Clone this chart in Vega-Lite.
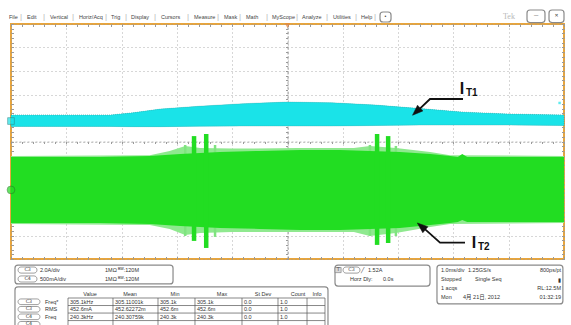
{
"$schema": "https://vega.github.io/schema/vega-lite/v6.json",
"width": 553, "height": 235,
"autosize": {"type": "none"},
"padding": {"left": 11, "top": 24, "right": 7, "bottom": 66},
"background": "white",
"config": {"view": {"stroke": "#e8a53c", "strokeWidth": 2}},
"resolve": {"axis": {"x": "independent", "y": "independent"}},
"datasets": {
"cyan": [
{"t": -5.0, "top": 1.13, "bot": 0.64}, {"t": -3.2, "top": 1.13, "bot": 0.64}, {"t": -2.8, "top": 1.22, "bot": 0.63},
{"t": -2.3, "top": 1.38, "bot": 0.63}, {"t": -1.6, "top": 1.5, "bot": 0.65}, {"t": -0.8, "top": 1.61, "bot": 0.66},
{"t": 0.0, "top": 1.68, "bot": 0.66}, {"t": 0.8, "top": 1.65, "bot": 0.66}, {"t": 1.6, "top": 1.55, "bot": 0.68},
{"t": 2.4, "top": 1.4, "bot": 0.7}, {"t": 3.2, "top": 1.25, "bot": 0.7}, {"t": 4.0, "top": 1.17, "bot": 0.7},
{"t": 5.0, "top": 1.13, "bot": 0.68}
],
"fringe": [
{"t": -5.0, "top": -0.62, "bot": -3.51}, {"t": -2.49, "top": -0.58, "bot": -3.55}, {"t": -2.13, "top": -0.4, "bot": -3.72},
{"t": -1.85, "top": -0.19, "bot": -3.98}, {"t": -1.58, "top": -0.28, "bot": -3.89}, {"t": -1.0, "top": -0.3, "bot": -3.85},
{"t": 0.2, "top": -0.28, "bot": -3.85}, {"t": 1.2, "top": -0.28, "bot": -3.85}, {"t": 1.49, "top": -0.19, "bot": -4.02},
{"t": 1.96, "top": -0.28, "bot": -3.89}, {"t": 2.58, "top": -0.45, "bot": -3.64}, {"t": 2.94, "top": -0.58, "bot": -3.51},
{"t": 5.0, "top": -0.62, "bot": -3.47}
],
"green": [
{"t": -5.0, "top": -0.66, "bot": -3.47}, {"t": -3.39, "top": -0.66, "bot": -3.47}, {"t": -2.49, "top": -0.62, "bot": -3.51},
{"t": -1.94, "top": -0.53, "bot": -3.6}, {"t": -1.22, "top": -0.45, "bot": -3.68}, {"t": -0.5, "top": -0.4, "bot": -3.72},
{"t": 0.23, "top": -0.36, "bot": -3.77}, {"t": 0.95, "top": -0.36, "bot": -3.77}, {"t": 2.03, "top": -0.45, "bot": -3.68},
{"t": 2.58, "top": -0.53, "bot": -3.55}, {"t": 2.94, "top": -0.62, "bot": -3.47}, {"t": 3.08, "top": -0.66, "bot": -3.43},
{"t": 3.16, "top": -0.53, "bot": -3.34}, {"t": 3.25, "top": -0.66, "bot": -3.43}, {"t": 5.0, "top": -0.66, "bot": -3.43}
],
"spikes": [
{"t": -1.69, "top": 0.23, "bot": -4.23, "kind": "core"}, {"t": -1.47, "top": 0.32, "bot": -4.53, "kind": "core"},
{"t": 1.62, "top": 0.32, "bot": -4.4, "kind": "core"}, {"t": 1.82, "top": 0.23, "bot": -4.32, "kind": "core"},
{"t": -1.85, "top": -0.15, "bot": -4.02, "kind": "light"}, {"t": -1.31, "top": -0.15, "bot": -4.06, "kind": "light"},
{"t": 1.49, "top": -0.15, "bot": -4.02, "kind": "light"}, {"t": 1.96, "top": -0.19, "bot": -4.02, "kind": "light"}
],
"arrows": [
{"arrow": "IT1", "o": 1, "t": 3.174, "y": 1.809}, {"arrow": "IT1", "o": 2, "t": 2.577, "y": 1.809}, {"arrow": "IT1", "o": 3, "t": 2.38, "y": 1.37},
{"arrow": "IT2", "o": 1, "t": 3.21, "y": -4.3}, {"arrow": "IT2", "o": 2, "t": 2.758, "y": -4.3}, {"arrow": "IT2", "o": 3, "t": 2.48, "y": -3.72}
],
"heads": [
{"t": 2.33, "y": 1.27, "dir": 227}, {"t": 2.42, "y": -3.61, "dir": 310}
],
"points": [
{"t": -5.0, "y": 0.87, "kind": "cyan"}, {"t": -5.0, "y": -2.06, "kind": "green"},
{"t": 0.0, "y": 4.93, "kind": "trig"}, {"t": 4.92, "y": 1.64, "kind": "cyanlvl"}
],
"boxes": [
{"t1": -4.928, "t2": -2.07, "y1": -5.26, "y2": -6.06, "kind": "panel"},
{"t1": 0.859, "t2": 2.577, "y1": -5.26, "y2": -6.15, "kind": "panel"},
{"t1": 2.703, "t2": 4.98, "y1": -5.26, "y2": -6.91, "kind": "panel"},
{"t1": -4.928, "t2": 0.732, "y1": -6.19, "y2": -7.98, "kind": "panel"},
{"t1": 4.331, "t2": 4.656, "y1": 5.596, "y2": 5.06, "kind": "panel"},
{"t1": 4.729, "t2": 5.0, "y1": 5.596, "y2": 5.06, "kind": "panel"},
{"t1": 1.673, "t2": 1.872, "y1": 5.51, "y2": 5.085, "kind": "panel"},
{"t1": -4.873, "t2": -4.53, "y1": -5.34, "y2": -5.6, "kind": "pill"},
{"t1": -4.873, "t2": -4.53, "y1": -5.72, "y2": -5.98, "kind": "pill"},
{"t1": 1.004, "t2": 1.311, "y1": -5.34, "y2": -5.6, "kind": "pill"},
{"t1": -4.873, "t2": -4.476, "y1": -6.7, "y2": -6.94, "kind": "pill"},
{"t1": -4.873, "t2": -4.476, "y1": -7.02, "y2": -7.26, "kind": "pill"},
{"t1": -4.873, "t2": -4.476, "y1": -7.34, "y2": -7.58, "kind": "pill"},
{"t1": -4.873, "t2": -4.476, "y1": -7.66, "y2": -7.9, "kind": "pill"},
{"t1": 0.86, "t2": 0.97, "y1": -5.36, "y2": -5.58, "kind": "trigbox"}
],
"tlines": [
{"t1": -3.969, "t2": 0.678, "y1": -6.66, "y2": -6.66}, {"t1": -3.969, "t2": 0.678, "y1": -6.98, "y2": -6.98},
{"t1": -3.969, "t2": 0.678, "y1": -7.3, "y2": -7.3}, {"t1": -3.969, "t2": 0.678, "y1": -7.62, "y2": -7.62},
{"t1": -3.969, "t2": -3.969, "y1": -6.66, "y2": -7.98}, {"t1": -3.156, "t2": -3.156, "y1": -6.66, "y2": -7.98},
{"t1": -2.342, "t2": -2.342, "y1": -6.66, "y2": -7.98}, {"t1": -1.673, "t2": -1.673, "y1": -6.66, "y2": -7.98},
{"t1": -0.823, "t2": -0.823, "y1": -6.66, "y2": -7.98}, {"t1": -0.172, "t2": -0.172, "y1": -6.66, "y2": -7.98},
{"t1": 0.353, "t2": 0.353, "y1": -6.66, "y2": -7.98}, {"t1": 0.678, "t2": 0.678, "y1": -6.66, "y2": -7.98}
],
"texts": [
{"t": -5.036, "y": 5.3, "text": "File", "role": "menu"}, {"t": -4.711, "y": 5.3, "text": "Edit", "role": "menu"},
{"t": -4.295, "y": 5.3, "text": "Vertical", "role": "menu"}, {"t": -3.77, "y": 5.3, "text": "Horiz/Acq", "role": "menu"},
{"t": -3.192, "y": 5.3, "text": "Trig", "role": "menu"}, {"t": -2.83, "y": 5.3, "text": "Display", "role": "menu"},
{"t": -2.288, "y": 5.3, "text": "Cursors", "role": "menu"}, {"t": -1.691, "y": 5.3, "text": "Measure", "role": "menu"},
{"t": -1.148, "y": 5.3, "text": "Mask", "role": "menu"}, {"t": -0.75, "y": 5.3, "text": "Math", "role": "menu"},
{"t": -0.28, "y": 5.3, "text": "MyScope", "role": "menu"}, {"t": 0.262, "y": 5.3, "text": "Analyze", "role": "menu"},
{"t": 0.823, "y": 5.3, "text": "Utilities", "role": "menu"}, {"t": 1.329, "y": 5.3, "text": "Help", "role": "menu"},
{"t": -4.819, "y": 5.3, "text": "|", "role": "sep"}, {"t": -4.403, "y": 5.3, "text": "|", "role": "sep"},
{"t": -3.879, "y": 5.3, "text": "|", "role": "sep"}, {"t": -3.282, "y": 5.3, "text": "|", "role": "sep"},
{"t": -2.92, "y": 5.3, "text": "|", "role": "sep"}, {"t": -2.396, "y": 5.3, "text": "|", "role": "sep"},
{"t": -1.799, "y": 5.3, "text": "|", "role": "sep"}, {"t": -1.257, "y": 5.3, "text": "|", "role": "sep"},
{"t": -0.859, "y": 5.3, "text": "|", "role": "sep"}, {"t": -0.371, "y": 5.3, "text": "|", "role": "sep"},
{"t": 0.172, "y": 5.3, "text": "|", "role": "sep"}, {"t": 0.714, "y": 5.3, "text": "|", "role": "sep"},
{"t": 1.239, "y": 5.3, "text": "|", "role": "sep"}, {"t": 1.582, "y": 5.3, "text": "|", "role": "sep"},
{"t": 1.772, "y": 5.3, "text": "•", "role": "pill"},
{"t": 3.897, "y": 5.3, "text": "Tek", "role": "tek"},
{"t": 4.494, "y": 5.33, "text": "—", "role": "pill"}, {"t": 4.865, "y": 5.33, "text": "✕", "role": "pill"},
{"t": -4.7, "y": -5.47, "text": "C3", "role": "pill"}, {"t": -4.7, "y": -5.85, "text": "C4", "role": "pill"},
{"t": -4.476, "y": -5.47, "text": "2.0A/div", "role": "ui"}, {"t": -3.3, "y": -5.47, "text": "1MΩ", "role": "ui"}, {"t": -3.065, "y": -5.47, "text": "ᴮᵂ:120M", "role": "ui"},
{"t": -4.476, "y": -5.85, "text": "500mA/div", "role": "ui"}, {"t": -3.3, "y": -5.85, "text": "1MΩ", "role": "ui"}, {"t": -3.065, "y": -5.85, "text": "ᴮᵂ:120M", "role": "ui"},
{"t": 0.915, "y": -5.47, "text": "T", "role": "pill"}, {"t": 1.157, "y": -5.47, "text": "C3", "role": "pill"},
{"t": 1.33, "y": -5.47, "text": "╱", "role": "ui"}, {"t": 1.456, "y": -5.47, "text": "1.52A", "role": "ui"},
{"t": 1.13, "y": -5.85, "text": "Horz Dly:", "role": "ui"}, {"t": 1.727, "y": -5.85, "text": "0.0s", "role": "ui"},
{"t": 2.776, "y": -5.47, "text": "1.0ms/div", "role": "ui"}, {"t": 3.264, "y": -5.47, "text": "1.25GS/s", "role": "ui"}, {"t": 4.946, "y": -5.47, "text": "800ps/pt", "role": "uiR"},
{"t": 2.776, "y": -5.85, "text": "Stopped", "role": "ui"}, {"t": 3.391, "y": -5.85, "text": "Single Seq", "role": "ui"}, {"t": 4.946, "y": -5.9, "text": "▮", "role": "uiR"},
{"t": 2.776, "y": -6.23, "text": "1 acqs", "role": "ui"}, {"t": 4.946, "y": -6.23, "text": "RL:12.5M", "role": "uiR"},
{"t": 2.776, "y": -6.62, "text": "Mon", "role": "ui"}, {"t": 3.174, "y": -6.62, "text": "4月 21日, 2012", "role": "ui"}, {"t": 4.946, "y": -6.62, "text": "01:32:19", "role": "uiR"},
{"t": -3.571, "y": -6.49, "text": "Value", "role": "hdr"}, {"t": -2.848, "y": -6.49, "text": "Mean", "role": "hdr"},
{"t": -2.034, "y": -6.49, "text": "Min", "role": "hdr"}, {"t": -1.184, "y": -6.49, "text": "Max", "role": "hdr"},
{"t": -0.443, "y": -6.49, "text": "St Dev", "role": "hdr"}, {"t": 0.19, "y": -6.49, "text": "Count", "role": "hdr"},
{"t": 0.533, "y": -6.49, "text": "Info", "role": "hdr"},
{"t": -4.675, "y": -6.82, "text": "C3", "role": "pill"}, {"t": -4.675, "y": -7.14, "text": "C3", "role": "pill"}, {"t": -4.675, "y": -7.46, "text": "C4", "role": "pill"}, {"t": -4.675, "y": -7.78, "text": "C4", "role": "pill"},
{"t": -4.385, "y": -6.82, "text": "Freq*", "role": "ui"}, {"t": -4.385, "y": -7.14, "text": "RMS", "role": "ui"}, {"t": -4.385, "y": -7.46, "text": "Freq", "role": "ui"},
{"t": -3.933, "y": -6.82, "text": "305.1kHz", "role": "ui"}, {"t": -3.119, "y": -6.82, "text": "305.11001k", "role": "ui"}, {"t": -2.306, "y": -6.82, "text": "305.1k", "role": "ui"},
{"t": -1.637, "y": -6.82, "text": "305.1k", "role": "ui"}, {"t": -0.787, "y": -6.82, "text": "0.0", "role": "ui"}, {"t": -0.136, "y": -6.82, "text": "1.0", "role": "ui"},
{"t": -3.933, "y": -7.14, "text": "452.6mA", "role": "ui"}, {"t": -3.119, "y": -7.14, "text": "452.62272m", "role": "ui"}, {"t": -2.306, "y": -7.14, "text": "452.6m", "role": "ui"},
{"t": -1.637, "y": -7.14, "text": "452.6m", "role": "ui"}, {"t": -0.787, "y": -7.14, "text": "0.0", "role": "ui"}, {"t": -0.136, "y": -7.14, "text": "1.0", "role": "ui"},
{"t": -3.933, "y": -7.46, "text": "240.3kHz", "role": "ui"}, {"t": -3.119, "y": -7.46, "text": "240.30759k", "role": "ui"}, {"t": -2.306, "y": -7.46, "text": "240.3k", "role": "ui"},
{"t": -1.637, "y": -7.46, "text": "240.3k", "role": "ui"}, {"t": -0.787, "y": -7.46, "text": "0.0", "role": "ui"}, {"t": -0.136, "y": -7.46, "text": "1.0", "role": "ui"},
{"t": 3.156, "y": 2.234, "text": "I", "role": "big"}, {"t": 3.228, "y": 2.06, "text": "T1", "role": "sub"},
{"t": 3.373, "y": -4.319, "text": "I", "role": "big"}, {"t": 3.445, "y": -4.49, "text": "T2", "role": "sub"}
]
},
"layer": [
{
"data": {"name": "cyan"},
"mark": {"type": "area", "color": "#1ae3e8", "opacity": 1},
"encoding": {
"x": {"field": "t", "type": "quantitative", "scale": {"domain": [-5, 5], "nice": false, "zero": false},
"axis": {"orient": "bottom", "values": [-5, -4, -3, -2, -1, 0, 1, 2, 3, 4, 5], "grid": true, "gridDash": [1, 3], "gridColor": "#9a9a9a", "gridWidth": 0.8, "labels": false, "ticks": false, "domain": false, "title": null}},
"y": {"field": "top", "type": "quantitative", "scale": {"domain": [-5, 5], "nice": false, "zero": false},
"axis": {"orient": "left", "values": [-5, -4, -3, -2, -1, 0, 1, 2, 3, 4, 5], "grid": true, "gridDash": [1, 3], "gridColor": "#9a9a9a", "gridWidth": 0.8, "labels": false, "ticks": false, "domain": false, "title": null}},
"y2": {"field": "bot"}
}
},
{
"data": {"name": "cyan"},
"mark": {"type": "point", "opacity": 0},
"encoding": {
"x": {"field": "t", "type": "quantitative", "axis": {"orient": "bottom", "offset": -117.5, "values": [-5, -4.8, -4.6, -4.4, -4.2, -4, -3.8, -3.6, -3.4, -3.2, -3, -2.8, -2.6, -2.4, -2.2, -2, -1.8, -1.6, -1.4, -1.2, -1, -0.8, -0.6, -0.4, -0.2, 0, 0.2, 0.4, 0.6, 0.8, 1, 1.2, 1.4, 1.6, 1.8, 2, 2.2, 2.4, 2.6, 2.8, 3, 3.2, 3.4, 3.6, 3.8, 4, 4.2, 4.4, 4.6, 4.8, 5], "labels": false, "tickSize": 2, "tickColor": "#999", "domain": true, "domainColor": "#aaa", "domainDash": [2, 2], "domainWidth": 0.8, "grid": false, "title": null}},
"y": {"field": "top", "type": "quantitative", "axis": {"orient": "left", "offset": -276.5, "values": [-5, -4.8, -4.6, -4.4, -4.2, -4, -3.8, -3.6, -3.4, -3.2, -3, -2.8, -2.6, -2.4, -2.2, -2, -1.8, -1.6, -1.4, -1.2, -1, -0.8, -0.6, -0.4, -0.2, 0, 0.2, 0.4, 0.6, 0.8, 1, 1.2, 1.4, 1.6, 1.8, 2, 2.2, 2.4, 2.6, 2.8, 3, 3.2, 3.4, 3.6, 3.8, 4, 4.2, 4.4, 4.6, 4.8, 5], "labels": false, "tickSize": 2, "tickColor": "#999", "domain": true, "domainColor": "#999", "domainDash": [3, 2], "domainWidth": 0.9, "grid": false, "title": null}}
}
},
{
"data": {"name": "cyan"},
"mark": {"type": "point", "opacity": 0},
"encoding": {
"x": {"field": "t", "type": "quantitative", "axis": {"orient": "top", "values": [-5, -4.8, -4.6, -4.4, -4.2, -4, -3.8, -3.6, -3.4, -3.2, -3, -2.8, -2.6, -2.4, -2.2, -2, -1.8, -1.6, -1.4, -1.2, -1, -0.8, -0.6, -0.4, -0.2, 0, 0.2, 0.4, 0.6, 0.8, 1, 1.2, 1.4, 1.6, 1.8, 2, 2.2, 2.4, 2.6, 2.8, 3, 3.2, 3.4, 3.6, 3.8, 4, 4.2, 4.4, 4.6, 4.8, 5], "labels": false, "tickSize": -2.5, "tickColor": "#999", "domain": false, "grid": false, "title": null}},
"y": {"field": "top", "type": "quantitative", "axis": {"orient": "right", "values": [-5, -4.8, -4.6, -4.4, -4.2, -4, -3.8, -3.6, -3.4, -3.2, -3, -2.8, -2.6, -2.4, -2.2, -2, -1.8, -1.6, -1.4, -1.2, -1, -0.8, -0.6, -0.4, -0.2, 0, 0.2, 0.4, 0.6, 0.8, 1, 1.2, 1.4, 1.6, 1.8, 2, 2.2, 2.4, 2.6, 2.8, 3, 3.2, 3.4, 3.6, 3.8, 4, 4.2, 4.4, 4.6, 4.8, 5], "labels": false, "tickSize": -2.5, "tickColor": "#999", "domain": false, "grid": false, "title": null}}
}
},
{
"data": {"name": "cyan"},
"mark": {"type": "point", "opacity": 0},
"encoding": {
"x": {"field": "t", "type": "quantitative", "axis": {"orient": "bottom", "values": [-5, -4.8, -4.6, -4.4, -4.2, -4, -3.8, -3.6, -3.4, -3.2, -3, -2.8, -2.6, -2.4, -2.2, -2, -1.8, -1.6, -1.4, -1.2, -1, -0.8, -0.6, -0.4, -0.2, 0, 0.2, 0.4, 0.6, 0.8, 1, 1.2, 1.4, 1.6, 1.8, 2, 2.2, 2.4, 2.6, 2.8, 3, 3.2, 3.4, 3.6, 3.8, 4, 4.2, 4.4, 4.6, 4.8, 5], "labels": false, "tickSize": -2.5, "tickColor": "#999", "domain": false, "grid": false, "title": null}},
"y": {"field": "top", "type": "quantitative", "axis": {"orient": "left", "values": [-5, -4.8, -4.6, -4.4, -4.2, -4, -3.8, -3.6, -3.4, -3.2, -3, -2.8, -2.6, -2.4, -2.2, -2, -1.8, -1.6, -1.4, -1.2, -1, -0.8, -0.6, -0.4, -0.2, 0, 0.2, 0.4, 0.6, 0.8, 1, 1.2, 1.4, 1.6, 1.8, 2, 2.2, 2.4, 2.6, 2.8, 3, 3.2, 3.4, 3.6, 3.8, 4, 4.2, 4.4, 4.6, 4.8, 5], "labels": false, "tickSize": -2.5, "tickColor": "#999", "domain": false, "grid": false, "title": null}}
}
},
{
"data": {"name": "cyan"},
"mark": {"type": "area", "color": "#1ae3e8", "stroke": "#3a9ea0", "strokeWidth": 0.6, "strokeDash": [1, 1]},
"encoding": {
"x": {"field": "t", "type": "quantitative", "axis": null},
"y": {"field": "top", "type": "quantitative", "axis": null},
"y2": {"field": "bot"}
}
},
{
"data": {"name": "fringe"},
"mark": {"type": "area", "color": "#8fe98f"},
"encoding": {
"x": {"field": "t", "type": "quantitative", "axis": null},
"y": {"field": "top", "type": "quantitative", "axis": null},
"y2": {"field": "bot"}
}
},
{
"data": {"name": "spikes"},
"transform": [{"filter": "datum.kind == 'light'"}],
"mark": {"type": "rule", "color": "#7fe47f", "strokeWidth": 2.5},
"encoding": {
"x": {"field": "t", "type": "quantitative", "axis": null},
"y": {"field": "top", "type": "quantitative", "axis": null},
"y2": {"field": "bot"}
}
},
{
"data": {"name": "green"},
"mark": {"type": "area", "color": "#22dd22"},
"encoding": {
"x": {"field": "t", "type": "quantitative", "axis": null},
"y": {"field": "top", "type": "quantitative", "axis": null},
"y2": {"field": "bot"}
}
},
{
"data": {"name": "spikes"},
"transform": [{"filter": "datum.kind == 'core'"}],
"mark": {"type": "rule", "color": "#22dd22", "strokeWidth": 4.5},
"encoding": {
"x": {"field": "t", "type": "quantitative", "axis": null},
"y": {"field": "top", "type": "quantitative", "axis": null},
"y2": {"field": "bot"}
}
},
{
"data": {"name": "points"},
"transform": [{"filter": "datum.kind == 'cyan'"}],
"mark": {"type": "point", "shape": "square", "size": 45, "filled": true, "color": "#1ae3e8", "stroke": "#2a8a8c", "strokeWidth": 0.8},
"encoding": {
"x": {"field": "t", "type": "quantitative", "axis": null},
"y": {"field": "y", "type": "quantitative", "axis": null}
}
},
{
"data": {"name": "points"},
"transform": [{"filter": "datum.kind == 'green'"}],
"mark": {"type": "point", "shape": "circle", "size": 60, "filled": true, "color": "#22dd22", "stroke": "#2a7a2a", "strokeWidth": 0.8},
"encoding": {
"x": {"field": "t", "type": "quantitative", "axis": null},
"y": {"field": "y", "type": "quantitative", "axis": null}
}
},
{
"data": {"name": "points"},
"transform": [{"filter": "datum.kind == 'trig'"}],
"mark": {"type": "point", "shape": "triangle-down", "size": 30, "filled": true, "color": "#e8853c"},
"encoding": {
"x": {"field": "t", "type": "quantitative", "axis": null},
"y": {"field": "y", "type": "quantitative", "axis": null}
}
},
{
"data": {"name": "points"},
"transform": [{"filter": "datum.kind == 'cyanlvl'"}],
"mark": {"type": "point", "shape": "square", "size": 6, "filled": true, "color": "#1ae3e8"},
"encoding": {
"x": {"field": "t", "type": "quantitative", "axis": null},
"y": {"field": "y", "type": "quantitative", "axis": null}
}
},
{
"data": {"name": "arrows"},
"mark": {"type": "line", "color": "#111", "strokeWidth": 1.8},
"encoding": {
"x": {"field": "t", "type": "quantitative", "axis": null},
"y": {"field": "y", "type": "quantitative", "axis": null},
"detail": {"field": "arrow"},
"order": {"field": "o"}
}
},
{
"data": {"name": "heads"},
"mark": {"type": "point", "shape": "M0,-1L0.75,1L-0.75,1Z", "size": 110, "filled": true, "fill": "#111", "stroke": "#111", "strokeWidth": 0.5, "opacity": 1},
"encoding": {
"x": {"field": "t", "type": "quantitative", "axis": null},
"y": {"field": "y", "type": "quantitative", "axis": null},
"angle": {"field": "dir", "type": "quantitative", "scale": null}
}
},
{
"data": {"name": "boxes"},
"transform": [{"filter": "datum.kind == 'panel'"}],
"mark": {"type": "rect", "fill": "white", "fillOpacity": 0, "stroke": "#8a8a8a", "strokeWidth": 1.2, "cornerRadius": 3},
"encoding": {
"x": {"field": "t1", "type": "quantitative", "axis": null},
"x2": {"field": "t2"},
"y": {"field": "y1", "type": "quantitative", "axis": null},
"y2": {"field": "y2"}
}
},
{
"data": {"name": "boxes"},
"transform": [{"filter": "datum.kind == 'pill'"}],
"mark": {"type": "rect", "fill": "white", "stroke": "#777", "strokeWidth": 0.7, "cornerRadius": 3},
"encoding": {
"x": {"field": "t1", "type": "quantitative", "axis": null},
"x2": {"field": "t2"},
"y": {"field": "y1", "type": "quantitative", "axis": null},
"y2": {"field": "y2"}
}
},
{
"data": {"name": "boxes"},
"transform": [{"filter": "datum.kind == 'trigbox'"}],
"mark": {"type": "rect", "fill": "#d9d9d9", "stroke": "#777", "strokeWidth": 0.6},
"encoding": {
"x": {"field": "t1", "type": "quantitative", "axis": null},
"x2": {"field": "t2"},
"y": {"field": "y1", "type": "quantitative", "axis": null},
"y2": {"field": "y2"}
}
},
{
"data": {"name": "tlines"},
"mark": {"type": "rule", "color": "#555", "strokeWidth": 0.7},
"encoding": {
"x": {"field": "t1", "type": "quantitative", "axis": null},
"x2": {"field": "t2"},
"y": {"field": "y1", "type": "quantitative", "axis": null},
"y2": {"field": "y2"}
}
},
{
"data": {"name": "texts"},
"transform": [{"filter": "datum.role == 'menu'"}],
"mark": {"type": "text", "align": "left", "baseline": "middle", "fontSize": 5.5, "font": "Liberation Sans", "color": "#444"},
"encoding": {
"x": {"field": "t", "type": "quantitative", "axis": null},
"y": {"field": "y", "type": "quantitative", "axis": null},
"text": {"field": "text"}
}
},
{
"data": {"name": "texts"},
"transform": [{"filter": "datum.role == 'sep'"}],
"mark": {"type": "text", "align": "center", "baseline": "middle", "fontSize": 8, "font": "Liberation Sans", "color": "#b5b5b5"},
"encoding": {
"x": {"field": "t", "type": "quantitative", "axis": null},
"y": {"field": "y", "type": "quantitative", "axis": null},
"text": {"field": "text"}
}
},
{
"data": {"name": "texts"},
"transform": [{"filter": "datum.role == 'tek'"}],
"mark": {"type": "text", "align": "left", "baseline": "middle", "fontSize": 8, "font": "Liberation Serif", "color": "#b8b8b8"},
"encoding": {
"x": {"field": "t", "type": "quantitative", "axis": null},
"y": {"field": "y", "type": "quantitative", "axis": null},
"text": {"field": "text"}
}
},
{
"data": {"name": "texts"},
"transform": [{"filter": "datum.role == 'pill'"}],
"mark": {"type": "text", "align": "center", "baseline": "middle", "fontSize": 4.8, "font": "DejaVu Sans", "color": "#444"},
"encoding": {
"x": {"field": "t", "type": "quantitative", "axis": null},
"y": {"field": "y", "type": "quantitative", "axis": null},
"text": {"field": "text"}
}
},
{
"data": {"name": "texts"},
"transform": [{"filter": "datum.role == 'ui'"}],
"mark": {"type": "text", "align": "left", "baseline": "middle", "fontSize": 5.5, "font": "Liberation Sans, DejaVu Sans, Noto Sans CJK SC", "color": "#333"},
"encoding": {
"x": {"field": "t", "type": "quantitative", "axis": null},
"y": {"field": "y", "type": "quantitative", "axis": null},
"text": {"field": "text"}
}
},
{
"data": {"name": "texts"},
"transform": [{"filter": "datum.role == 'uiR'"}],
"mark": {"type": "text", "align": "right", "baseline": "middle", "fontSize": 5.5, "font": "Liberation Sans, DejaVu Sans", "color": "#333"},
"encoding": {
"x": {"field": "t", "type": "quantitative", "axis": null},
"y": {"field": "y", "type": "quantitative", "axis": null},
"text": {"field": "text"}
}
},
{
"data": {"name": "texts"},
"transform": [{"filter": "datum.role == 'hdr'"}],
"mark": {"type": "text", "align": "center", "baseline": "middle", "fontSize": 5.5, "font": "Liberation Sans", "color": "#333"},
"encoding": {
"x": {"field": "t", "type": "quantitative", "axis": null},
"y": {"field": "y", "type": "quantitative", "axis": null},
"text": {"field": "text"}
}
},
{
"data": {"name": "texts"},
"transform": [{"filter": "datum.role == 'big'"}],
"mark": {"type": "text", "align": "center", "baseline": "middle", "fontSize": 16, "fontWeight": "bold", "font": "Liberation Sans", "color": "#111"},
"encoding": {
"x": {"field": "t", "type": "quantitative", "axis": null},
"y": {"field": "y", "type": "quantitative", "axis": null},
"text": {"field": "text"}
}
},
{
"data": {"name": "texts"},
"transform": [{"filter": "datum.role == 'sub'"}],
"mark": {"type": "text", "align": "left", "baseline": "middle", "fontSize": 10, "fontWeight": "bold", "font": "Liberation Sans", "color": "#111"},
"encoding": {
"x": {"field": "t", "type": "quantitative", "axis": null},
"y": {"field": "y", "type": "quantitative", "axis": null},
"text": {"field": "text"}
}
}
]
}
